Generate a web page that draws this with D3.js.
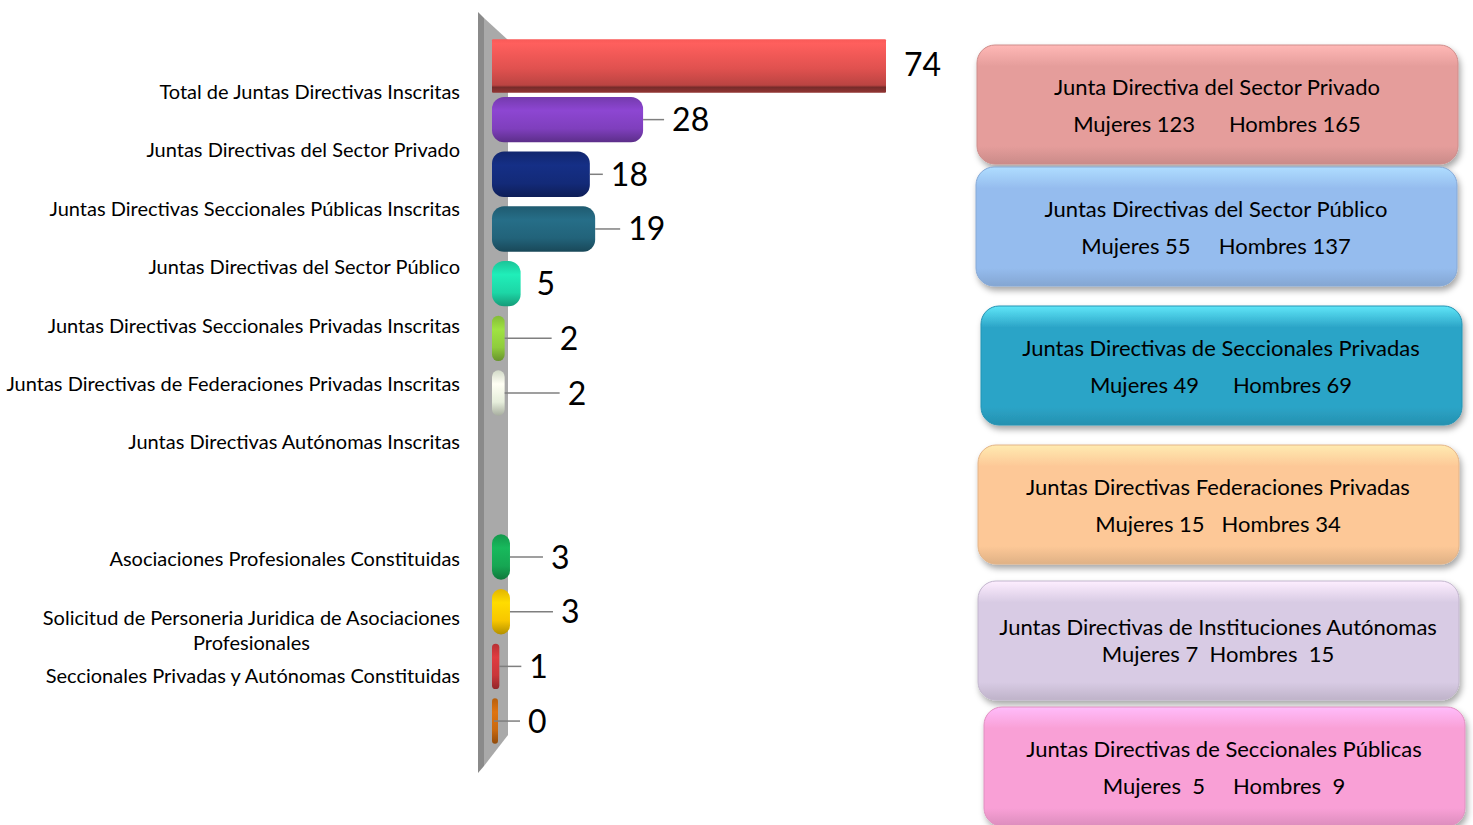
<!DOCTYPE html>
<html>
<head>
<meta charset="utf-8">
<script src="https://cdn.jsdelivr.net/npm/d3@7.9.0/dist/d3.min.js"></script>
<style>
  body { margin: 0; background: #fff; }
  svg { display: block; font-family: Lato, "Noto Sans", sans-serif; }
</style>
</head>
<body>
<svg id="chart"></svg>
<script>
// ---- data ----
const categoryLabels = [
  "Total de Juntas Directivas Inscritas",
  "Juntas Directivas del Sector Privado ",
  "Juntas Directivas Seccionales Públicas Inscritas",
  "Juntas Directivas del Sector Público",
  "Juntas Directivas Seccionales Privadas Inscritas",
  "Juntas Directivas de Federaciones Privadas Inscritas",
  "Juntas Directivas Autónomas Inscritas",
  "",
  "Asociaciones Profesionales Constituidas",
  "Solicitud de Personeria Juridica de Asociaciones\nProfesionales",
  "Seccionales Privadas y Autónomas Constituidas"
];
// 13 bar slots (two empty ones)
const barValues = [74, 28, 18, 19, 5, 2, 2, null, null, 3, 3, 1, 0];
const barColors = ["#e0514f", "#7f3fbd", "#132a78", "#22637a", "#1dd6a6", "#8fcc3c",
                   "#e6eedb", null, null, "#16a653", "#f7c600", "#c9363a", "#c8680e"];

const boxTitles = [
  "Junta Directiva del Sector Privado",
  "Juntas Directivas del Sector Público",
  "Juntas Directivas de Seccionales Privadas",
  "Juntas Directivas Federaciones Privadas",
  "Juntas Directivas de Instituciones Autónomas",
  "Juntas Directivas de Seccionales Públicas"
];
const mujeres = ["123", "55", "49", "15", "7", " 5"];
const hombres = ["165", "137", "69", "34", " 15", " 9"];
const boxColors = ["#e59d9b", "#95bcee", "#2ba4c7", "#fdc897", "#d8cbe4", "#f9a0d6"];

// ---- layout ----
const width = 1473, height = 825;
const leaderLen = [0, 21, 13, 25, 0, 47, 55, null, null, 33, 43, 22, 26];
const boxX = [977, 976, 981, 978, 978, 984];
const boxY = [45, 167, 306, 445, 581, 707];
const boxGap = ["      ", "     ", "      ", "   ", "  ", "     "];
const boxLineStep = [37, 37, 37, 37, 27, 37];

const svg = d3.select("#chart").attr("width", width).attr("height", height);
const defs = svg.append("defs");

const shadow = defs.append("filter").attr("id", "shadow")
  .attr("x", "-5%").attr("y", "-10%").attr("width", "112%").attr("height", "130%");
shadow.append("feDropShadow").attr("dx", 2).attr("dy", 4).attr("stdDeviation", 3)
  .attr("flood-color", "#000").attr("flood-opacity", 0.35);

// scales
const x = d3.scaleLinear().domain([0, 74]).range([492, 886]);
const y = d3.scaleBand().domain(d3.range(barValues.length)).range([37.6, 748.4]).paddingInner(0.17).paddingOuter(0.085);
const yLab = d3.scalePoint().domain(d3.range(categoryLabels.length)).range([92, 676]);

// wall
svg.append("polygon")
  .attr("points", "478,12 484,18 484,766 478,773")
  .attr("fill", "#8a8a8a");
svg.append("polygon")
  .attr("points", "484,18 508,40 508,735 484,766")
  .attr("fill", "#a9a9a9");

// bar gradients
barValues.forEach((v, i) => {
  if (v === null) return;
  const base = d3.color(barColors[i]);
  const g = defs.append("linearGradient").attr("id", "bar" + i)
    .attr("x1", 0).attr("x2", 0).attr("y1", 0).attr("y2", 1);
  let stops;
  if (i === 0) {
    stops = [[0, base.brighter(0.3)], [0.08, base.brighter(0.45)], [0.55, base],
             [0.86, base.darker(0.5)], [0.9, base.darker(1.8)], [1, base.darker(1.2)]];
  } else {
    stops = [[0, base.darker(0.25)], [0.3, base.brighter(0.3)], [0.7, base], [1, base.darker(0.9)]];
  }
  stops.forEach(s => g.append("stop").attr("offset", s[0]).attr("stop-color", s[1]));
});

const data = barValues.map((v, i) => ({ v, i })).filter(d => d.v !== null);
const barW = d => Math.max(x(d.v) - x(0), 4);

svg.append("g").selectAll("rect").data(data).join("rect")
  .attr("x", x(0))
  .attr("y", d => d.i === 0 ? y(d.i) - 3 : y(d.i))
  .attr("width", d => d.i === 0 ? barW(d) : barW(d) + 2)
  .attr("height", d => d.i === 0 ? y.bandwidth() + 8 : y.bandwidth())
  .attr("rx", d => d.i === 0 ? 1 : Math.min(12, barW(d) / 2 + 1))
  .attr("fill", d => `url(#bar${d.i})`);

// leaders and value labels
const mid = i => y(i) + y.bandwidth() / 2;
svg.append("g").selectAll("line").data(data.filter(d => leaderLen[d.i] > 0)).join("line")
  .attr("x1", d => x(d.v) + 2).attr("x2", d => x(d.v) + 2 + leaderLen[d.i])
  .attr("y1", d => mid(d.i)).attr("y2", d => mid(d.i))
  .attr("stroke", "#7f7f7f").attr("stroke-width", 1.5);

svg.append("g").selectAll("text").data(data).join("text")
  .attr("x", d => leaderLen[d.i] > 0 ? x(d.v) + leaderLen[d.i] + 10 : x(d.v) + 18)
  .attr("y", d => mid(d.i))
  .attr("dy", "0.36em")
  .attr("font-size", 32)
  .attr("fill", "#000")
  .text(d => d.v);

// category axis
const axisG = svg.append("g").attr("transform", "translate(460,0)")
  .call(d3.axisLeft(yLab).tickSize(0).tickPadding(0).tickFormat(i => categoryLabels[i]));
axisG.select(".domain").remove();
axisG.selectAll(".tick text")
  .attr("font-family", "Lato, 'Noto Sans', sans-serif")
  .attr("font-size", 20)
  .attr("fill", "#000")
  .each(function(i) {
    const lines = categoryLabels[i].split("\n");
    if (lines.length < 2) return;
    const t = d3.select(this).text(null).attr("text-anchor", "middle");
    const first = t.append("tspan").attr("x", 0).attr("dy", "0.32em").text(lines[0]);
    const w = first.node().getComputedTextLength();
    first.attr("x", -w / 2);
    lines.slice(1).forEach(l => t.append("tspan").attr("x", -w / 2).attr("dy", 26).text(l));
  });

// info boxes
const boxes = svg.append("g").selectAll("g").data(boxTitles).join("g")
  .attr("transform", (d, i) => `translate(${boxX[i]},${boxY[i]})`);

boxTitles.forEach((t, i) => {
  const base = d3.color(boxColors[i]);
  const g = defs.append("linearGradient").attr("id", "box" + i)
    .attr("x1", 0).attr("x2", 0).attr("y1", 0).attr("y2", 1);
  const top = i === 2 ? d3.color("#5fe6f8") : base.brighter(0.45);
  [[0, top], [0.18, base], [0.85, base], [1, base.darker(0.35)]]
    .forEach(s => g.append("stop").attr("offset", s[0]).attr("stop-color", s[1]));
});

boxes.append("rect")
  .attr("width", 481).attr("height", 119).attr("rx", 18)
  .attr("fill", (d, i) => `url(#box${i})`)
  .attr("stroke", (d, i) => d3.color(boxColors[i]).darker(0.3))
  .attr("stroke-width", 1)
  .attr("filter", "url(#shadow)");

const line1 = i => boxLineStep[i] === 37 ? 50 : 54;
boxes.append("text")
  .attr("x", 240).attr("y", (d, i) => line1(i))
  .attr("text-anchor", "middle").attr("font-size", 22).attr("fill", "#000")
  .text(d => d);

boxes.append("text")
  .attr("x", 240).attr("y", (d, i) => line1(i) + boxLineStep[i])
  .attr("text-anchor", "middle").attr("font-size", 22).attr("fill", "#000")
  .style("white-space", "pre")
  .text((d, i) => `Mujeres ${mujeres[i]}${boxGap[i]}Hombres ${hombres[i]}`);
</script>
</body>
</html>
